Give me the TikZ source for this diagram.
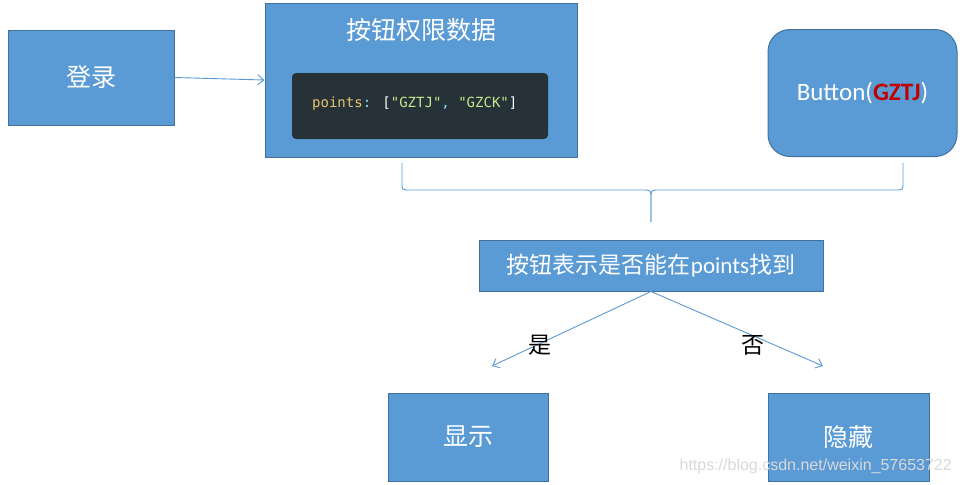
\documentclass[tikz,border=0pt]{standalone}
\usepackage{fontspec}
\setmainfont{Carlito}
\newfontfamily\cjk{Noto Sans CJK SC}
\newfontfamily\codefont{DejaVu Sans Mono}
\usetikzlibrary{arrows.meta}
\definecolor{boxfill}{HTML}{5B9BD5}
\definecolor{boxline}{HTML}{41719C}
\definecolor{codebg}{HTML}{263238}
\definecolor{codekey}{HTML}{E8C46A}
\definecolor{codestr}{HTML}{C3E88D}
\definecolor{codepun}{HTML}{89DDFF}
\definecolor{redtxt}{HTML}{C00000}
\begin{document}
\begin{tikzpicture}[x=1pt,y=-1pt,
  bluebox/.style={draw=boxline,fill=boxfill,line width=1pt,inner sep=0pt,text=white},
  conn/.style={draw=boxfill,line width=0.9pt},
  arr/.style={conn,-{Straight Barb[length=6pt,width=10pt]}}]
\useasboundingbox (0,0) rectangle (962,485);
\fill[white] (0,0) rectangle (962,485);
% boxes
\node[bluebox,minimum width=166pt,minimum height=95pt] (login) at (91,77.5) {\cjk\fontsize{25}{29}\selectfont 登录};
\node[bluebox,minimum width=312pt,minimum height=154pt] (data) at (421,80) {};
\node[text=white,anchor=center] (datatitle) at (421,30) {\cjk\fontsize{25}{29}\selectfont 按钮权限数据};
\node[fill=codebg,rounded corners=4pt,minimum width=256pt,minimum height=66pt,inner sep=0pt] (code) at (420,106) {};
\node[anchor=west,inner sep=0pt] (codetext) at (312,104) {\codefont\fontsize{14}{16}\selectfont\textcolor{codekey}{points}\textcolor{codepun}{:} \textcolor{white}{[}\textcolor{codestr}{"GZTJ"}\textcolor{codepun}{,} \textcolor{codestr}{"GZCK"}\textcolor{white}{]}};
\node[bluebox,rounded corners=22pt,minimum width=189pt,minimum height=127pt] (btn) at (862.5,93) {\fontsize{25}{29}\selectfont Button(\textcolor{redtxt}{\textbf{GZTJ}})};
\node[bluebox,minimum width=344pt,minimum height=51pt] (check) at (651,265.5) {\cjk\fontsize{23}{27}\selectfont 按钮表示是否能在\fontspec{Carlito}points\cjk 找到};
\node[bluebox,minimum width=160pt,minimum height=88pt] (show) at (468,437) {\cjk\fontsize{25}{29}\selectfont 显示};
\node[bluebox,minimum width=161pt,minimum height=88pt] (hide) at (848.5,437) {\cjk\fontsize{25}{29}\selectfont 隐藏};
% connectors
\draw[arr] (login.east) -- (data.west);
\coordinate (bl) at (402,163);
\coordinate (br) at (903,163);
\coordinate (tip) at (651,222);
\draw[conn] (bl) -- (402,183) .. controls (402,190) .. (410,190) -- (643,190) .. controls (651,190) .. (651,198) -- (tip);
\draw[conn] (tip) -- (651,198) .. controls (651,190) .. (659,190) -- (895,190) .. controls (903,190) .. (903,183) -- (br);
\coordinate (yesend) at (492,366);
\coordinate (noend) at (823,366);
\draw[arr] (check.south) -- (yesend);
\draw[arr] (check.south) -- (noend);
\node (yes) at (540,345) {\cjk\fontsize{23}{27}\selectfont 是};
\node (no) at (753,345) {\cjk\fontsize{23}{27}\selectfont 否};
\node[text=black!15,anchor=east,inner sep=0pt] (wm) at (952,466) {\fontspec{Liberation Sans}\fontsize{16}{18}\selectfont https://blog.csdn.net/weixin\_57653722};
\end{tikzpicture}
\end{document}
